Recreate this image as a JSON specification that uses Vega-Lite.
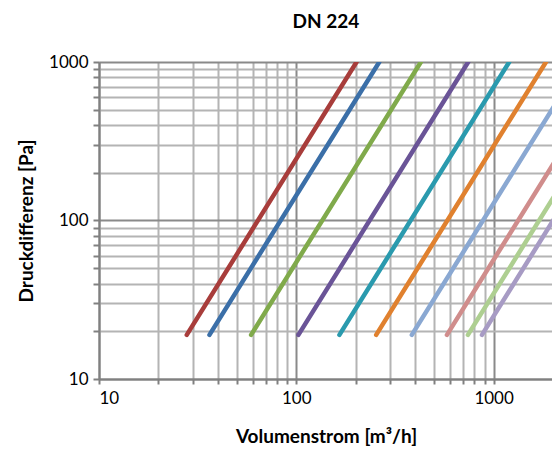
{
  "$schema": "https://vega.github.io/schema/vega-lite/v6.json",
  "width": 454,
  "height": 317,
  "autosize": {"type": "none"},
  "padding": {"left": 99, "top": 62, "right": 0, "bottom": 78},
  "background": "white",
  "title": {"text": "DN 224", "font": "Lato", "fontSize": 19, "fontWeight": "bold", "color": "#000000", "anchor": "middle", "offset": 21},
  "data": {"values": [
    {"s": "A", "q": 27.85, "p": 19}, {"s": "A", "q": 202, "p": 1000},
    {"s": "B", "q": 36.3, "p": 19}, {"s": "B", "q": 263.4, "p": 1000},
    {"s": "C", "q": 59.0, "p": 19}, {"s": "C", "q": 428, "p": 1000},
    {"s": "D", "q": 102.5, "p": 19}, {"s": "D", "q": 743.6, "p": 1000},
    {"s": "E", "q": 165.4, "p": 19}, {"s": "E", "q": 1200, "p": 1000},
    {"s": "F", "q": 254, "p": 19}, {"s": "F", "q": 1843, "p": 1000},
    {"s": "G", "q": 385, "p": 19}, {"s": "G", "q": 2793, "p": 1000},
    {"s": "H", "q": 580, "p": 19}, {"s": "H", "q": 4208, "p": 1000},
    {"s": "I", "q": 741, "p": 19}, {"s": "I", "q": 5376, "p": 1000},
    {"s": "J", "q": 873, "p": 19}, {"s": "J", "q": 6334, "p": 1000}
  ]},
  "mark": {"type": "line", "strokeWidth": 4.5, "strokeCap": "round", "clip": true},
  "encoding": {
    "x": {
      "field": "q", "type": "quantitative",
      "scale": {"type": "log", "domain": [10, 2000], "nice": false},
      "axis": {
        "title": "Volumenstrom [m³/h]",
        "values": [10,20,30,40,50,60,70,80,90,100,200,300,400,500,600,700,800,900,1000,2000],
        "format": "d",
        "labelExpr": "indexof([10,100,1000], datum.value) >= 0 ? datum.label : ''",
        "labelOverlap": false,
        "labelFont": "Lato", "labelFontSize": 17, "labelColor": "#000000", "labelPadding": 6,
        "titleFont": "Lato", "titleFontSize": 19, "titleFontWeight": "bold", "titleColor": "#000000", "titlePadding": 21,
        "domainColor": "#808080", "domainWidth": 2,
        "tickColor": "#808080", "tickSize": 5, "tickWidth": 2,
        "grid": true, "gridWidth": 2,
        "gridColor": {"condition": {"test": "datum.value === 10 || datum.value === 100 || datum.value === 1000", "value": "#8a8a8a"}, "value": "#b4b4b4"}
      }
    },
    "y": {
      "field": "p", "type": "quantitative",
      "scale": {"type": "log", "domain": [10, 1000], "nice": false},
      "axis": {
        "title": "Druckdifferenz [Pa]",
        "values": [10,20,30,40,50,60,70,80,90,100,200,300,400,500,600,700,800,900,1000],
        "format": "d",
        "labelExpr": "indexof([10,100,1000], datum.value) >= 0 ? datum.label : ''",
        "labelOverlap": false,
        "labelFont": "Lato", "labelFontSize": 17, "labelColor": "#000000", "labelPadding": 5,
        "titleFont": "Lato", "titleFontSize": 19, "titleFontWeight": "bold", "titleColor": "#000000", "titlePadding": 12,
        "domainColor": "#808080", "domainWidth": 2,
        "tickColor": "#808080", "tickSize": 6, "tickWidth": 2,
        "grid": true, "gridWidth": 2,
        "gridColor": {"condition": {"test": "datum.value === 10 || datum.value === 100 || datum.value === 1000", "value": "#8a8a8a"}, "value": "#b4b4b4"}
      }
    },
    "color": {
      "field": "s", "type": "nominal", "legend": null,
      "scale": {"domain": ["A","B","C","D","E","F","G","H","I","J"],
                "range": ["#a83d3b", "#3b6fa8", "#80aa4b", "#6a5497", "#2a9aae", "#e0812f", "#8aa8d2", "#d08d8c", "#aecf91", "#a79bc4"]}
    }
  },
  "config": {"view": {"stroke": null}}
}
